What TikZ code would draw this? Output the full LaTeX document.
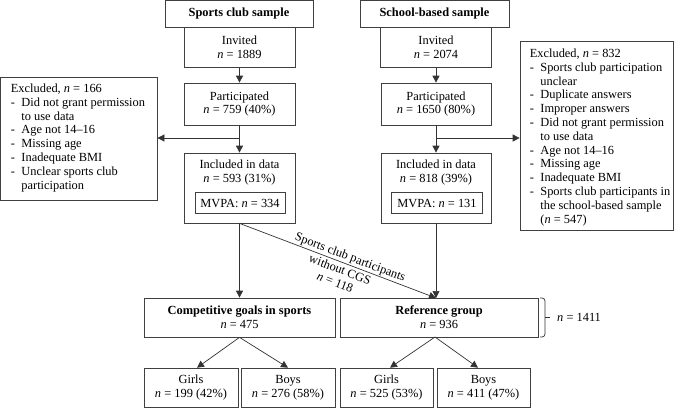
\documentclass[tikz,border=0pt]{standalone}
\usepackage{fontspec}
\setmainfont{Liberation Serif}
\usetikzlibrary{arrows.meta,calc}
\newcommand{\dsh}{\makebox[0.85em][l]{-}}
\newcommand{\hng}{\hspace*{0.85em}}
\newcommand{\nI}{\textit{n}}
\begin{document}
\begin{tikzpicture}[x=1pt,y=-1pt,
  font=\fontsize{12.4}{13.8}\selectfont,
  box/.style={draw=black!75, line width=0.7pt, inner sep=0pt, align=center},
  lbl/.style={inner sep=0pt, align=center},
  arr/.style={draw=black!80, line width=0.7pt, -{Triangle[length=7pt,width=7pt]}},
  ln/.style={draw=black!80, line width=0.7pt}]
\useasboundingbox (0,0) rectangle (685,408);
% ---- left column
\node[box, minimum width=148pt, minimum height=27pt] (scs) at (239,13.8) {\textbf{Sports club sample}};
\node[box, minimum width=111pt, minimum height=40pt] (inv1) at (239.5,47.3) {Invited\\\nI{} = 1889};
\node[box, minimum width=111pt, minimum height=42pt] (par1) at (239.5,104) {Participated\\\nI{} = 759 (40\%)};
\node[box, minimum width=111pt, minimum height=70pt] (inc1) at (239.5,188) {};
\node[lbl, anchor=north] (inc1t) at ($(inc1.north)+(0,7)$) {Included in data\\\nI{} = 593 (31\%)};
\node[box, minimum width=90pt, minimum height=21pt] (mv1) at (240,203) {MVPA: \nI{} = 334};
\node[box, minimum width=156.5pt, minimum height=123pt] (exc1) at (78.8,138.5) {};
\node[lbl, anchor=north west, align=left] (exc1t) at ($(exc1.north west)+(10.5,7)$)
  {Excluded, \nI{} = 166\\
   \dsh Did not grant permission\\
   \hng to use data\\
   \dsh Age not 14–16\\
   \dsh Missing age\\
   \dsh Inadequate BMI\\
   \dsh Unclear sports club\\
   \hng participation};
% ---- right column
\node[box, minimum width=149pt, minimum height=27pt] (sbs) at (434.5,13.8) {\textbf{School-based sample}};
\node[box, minimum width=111pt, minimum height=40pt] (inv2) at (436,47.3) {Invited\\\nI{} = 2074};
\node[box, minimum width=110pt, minimum height=42pt] (par2) at (436,104) {Participated\\\nI{} = 1650 (80\%)};
\node[box, minimum width=110pt, minimum height=70pt] (inc2) at (436,188) {};
\node[lbl, anchor=north] (inc2t) at ($(inc2.north)+(0,7)$) {Included in data\\\nI{} = 818 (39\%)};
\node[box, minimum width=91pt, minimum height=21pt] (mv2) at (437,203) {MVPA: \nI{} = 131};
\node[box, minimum width=153pt, minimum height=189pt] (exc2) at (596.5,135.5) {};
\node[lbl, anchor=north west, align=left] (exc2t) at ($(exc2.north west)+(10,8)$)
  {Excluded, \nI{} = 832\\
   \dsh Sports club participation\\
   \hng unclear\\
   \dsh Duplicate answers\\
   \dsh Improper answers\\
   \dsh Did not grant permission\\
   \hng to use data\\
   \dsh Age not 14–16\\
   \dsh Missing age\\
   \dsh Inadequate BMI\\
   \dsh Sports club participants in\\
   \hng the school-based sample\\
   \hng (\nI{} = 547)};
% ---- groups
\node[box, minimum width=191pt, minimum height=39pt] (cgs) at (239.5,317.5) {\textbf{Competitive goals in sports}\\\nI{} = 475};
\node[box, minimum width=198pt, minimum height=39pt] (ref) at (439,317.5) {\textbf{Reference group}\\\nI{} = 936};
\node[box, minimum width=94pt, minimum height=39.5pt] (g1) at (191,387.8) {Girls\\\nI{} = 199 (42\%)};
\node[box, minimum width=94pt, minimum height=39.5pt] (b1) at (288,387.8) {Boys\\\nI{} = 276 (58\%)};
\node[box, minimum width=93pt, minimum height=39.5pt] (g2) at (386.5,387.8) {Girls\\\nI{} = 525 (53\%)};
\node[box, minimum width=93pt, minimum height=39.5pt] (b2) at (483.5,387.8) {Boys\\\nI{} = 411 (47\%)};
\node[lbl, anchor=west] (tot) at (557,317.5) {\nI{} = 1411};
% ---- connectors
\coordinate (j1) at (239.5,138);
\coordinate (j2) at (436,138);
\coordinate (r1) at (436,298);
\coordinate (rs) at (435,337);
\draw[arr] (inv1.south) -- (par1.north);
\draw[arr] (par1.south) -- (inc1.north);
\draw[arr] (j1) -- (j1 -| exc1.east);
\draw[arr] (inv2.south) -- (par2.north);
\draw[arr] (par2.south) -- (inc2.north);
\draw[arr] (j2) -- (j2 -| exc2.west);
\draw[arr] (inc1.south) -- (cgs.north);
\draw[arr] (inc2.south) -- (r1);
\draw[arr] (inc1.south) -- node[sloped, above, pos=0.55, inner sep=1pt] (dl1) {Sports club participants}
  node[sloped, below, pos=0.525, inner sep=2.5pt, align=center] (dl2) {without CGS\\\nI{} = 118} (r1);
\draw[arr] (cgs.south) -- ([xshift=6pt]g1.north);
\draw[arr] (cgs.south) -- (b1.north);
\draw[arr] (rs) -- ([xshift=3.5pt]g2.north);
\draw[arr] (rs) -- ([xshift=-5.5pt]b2.north);
% ---- brace
\draw[ln, rounded corners=3pt] (540,298) -| (545,337) -- (540,337);
\draw[ln] (545,317.5) -- (550,317.5);
\end{tikzpicture}
\end{document}
